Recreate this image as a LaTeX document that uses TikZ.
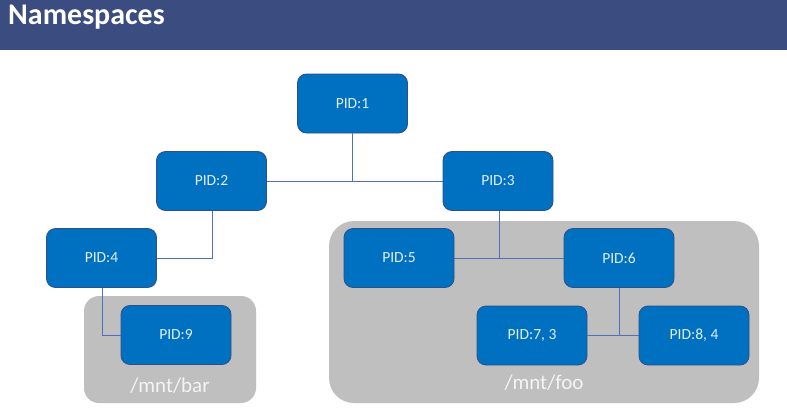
\documentclass[tikz,border=0pt]{standalone}
\usepackage{fontspec}
\setmainfont{Carlito}
\definecolor{hdr}{HTML}{3A4C80}
\definecolor{pidfill}{HTML}{0070C0}
\definecolor{pidborder}{HTML}{2F4F8A}
\definecolor{pidtext}{HTML}{E2EEF9}
\definecolor{connc}{HTML}{5070B8}
\definecolor{nsgray}{HTML}{BFBFBF}
\definecolor{nstext}{HTML}{F4F4F4}
\begin{document}
\begin{tikzpicture}[x=1pt,y=-1pt,
  pid/.style={draw=pidborder, line width=0.8pt, fill=pidfill, rounded corners=9pt,
    minimum width=110pt, minimum height=59pt, text=pidtext,
    font=\fontsize{15.5}{17}\selectfont, inner sep=0pt},
  conn/.style={draw=connc, line width=1pt},
  nsbox/.style={fill=nsgray, inner sep=0pt},
  nslabel/.style={text=nstext, font=\fontsize{21}{23}\selectfont, inner sep=0pt}]
\useasboundingbox (0,0) rectangle (787,415);
\fill[white] (0,0) rectangle (787,415);
\fill[hdr] (0,0) rectangle (787,49.5);
\node[anchor=base west, text=white, font=\fontsize{30}{32}\selectfont\bfseries, inner sep=0pt] (title) at (8,24) {Namespaces};
% namespace boxes
\node[nsbox, rounded corners=15pt, minimum width=172pt, minimum height=107pt] (bar) at (170,349.5) {};
\node[nsbox, rounded corners=25pt, minimum width=430pt, minimum height=182pt] (foo) at (544,312) {};
\node[nslabel] (barlbl) at (170,386) {/mnt/bar};
\node[nslabel] (foolbl) at (544,383) {/mnt/foo};
% connector corner points
\coordinate (c2) at (212,258);
\coordinate (c4) at (102,335);
\coordinate (c3) at (499,258);
\coordinate (c6) at (619,335.5);
% processes
\node[pid] (p1) at (352.5,103.5) {PID:1};
\node[pid] (p2) at (211.5,181) {PID:2};
\node[pid] (p3) at (498,181) {PID:3};
\node[pid] (p4) at (101.5,258) {PID:4};
\node[pid] (p9) at (176,335) {PID:9};
\node[pid] (p5) at (399,258) {PID:5};
\node[pid] (p6) at (619,258) {PID:6};
\node[pid] (p7) at (532,335.5) {PID:7, 3};
\node[pid] (p8) at (694,335.5) {PID:8, 4};
\draw[conn] (p2.east) -- (p3.west);
\draw[conn] (p1.south) -- (p1.south |- p2.east);
\draw[conn] (p4.east) -- (c2) -- (c2 |- p2.south);
\draw[conn] (p4.south -| c4) -- (c4) -- (p9.west);
\draw[conn] (p5.east) -- (p6.west);
\draw[conn] (p3.south -| c3) -- (c3);
\draw[conn] (p7.east) -- (p8.west);
\draw[conn] (p6.south) -- (c6);
\end{tikzpicture}
\end{document}
